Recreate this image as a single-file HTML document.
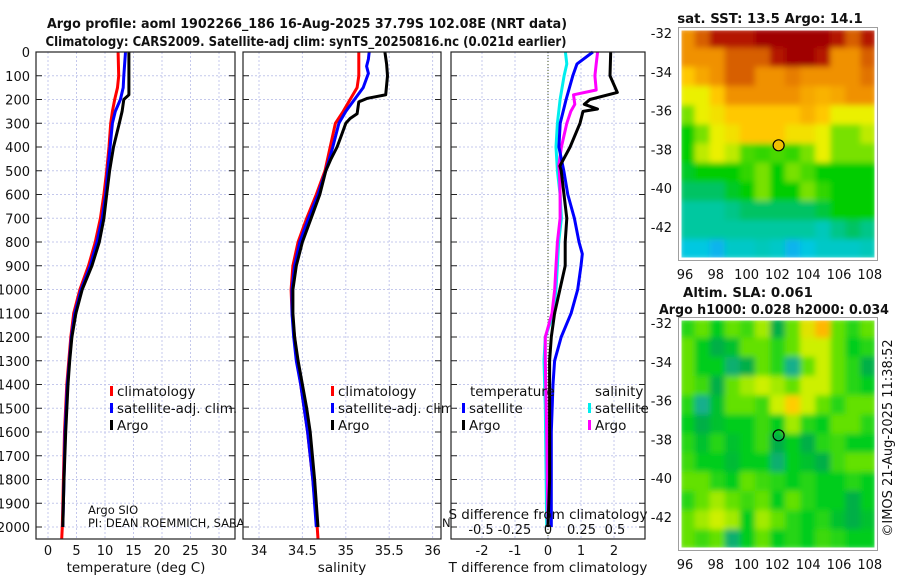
<!DOCTYPE html>
<html><head><meta charset="utf-8">
<style>
html,body{margin:0;padding:0;background:#fff;}
svg{display:block;font-family:"DejaVu Sans","Liberation Sans",sans-serif;}
</style></head>
<body>
<svg id="chart" width="900" height="580" viewBox="0 0 900 580" xmlns="http://www.w3.org/2000/svg"></svg>
<script>
// ---------- DATA ----------
const depthTicks = [0,100,200,300,400,500,600,700,800,900,1000,1100,1200,1300,1400,1500,1600,1700,1800,1900,2000];
const tempTicks = [0,5,10,15,20,25,30];
const salTicks = [34,34.5,35,35.5,36];
const salTickLabels = ["34","34.5","35","35.5","36"];
const tdiffTicks = [-2,-1,0,1,2];
const sdiffTicks = [-0.5,-0.25,0,0.25,0.5];
const sdiffTickLabels = ["-0.5","-0.25","0","0.25","0.5"];

const argoTDepth = [0,100,180,200,250,300,350,400,500,600,700,800,900,1000,1100,1200,1300,1400,1600,1800,2000];
const argoTemp   = [14.2,14.2,14.2,13.3,13.0,12.5,12.0,11.5,10.8,10.3,9.8,9.0,7.7,6.0,4.9,4.2,3.8,3.5,3.1,2.8,2.6];
const satTDepth  = [0,100,150,200,250,300,400,500,600,700,800,900,1000,1100,1200,1400,1600,2000];
const satTemp    = [13.6,13.3,13.2,12.7,11.8,11.3,10.9,10.5,10.1,9.5,8.6,7.4,5.8,4.7,4.1,3.4,3.0,2.6];
const climTDepth = [0,100,150,200,250,300,400,500,600,700,800,900,1000,1100,1200,1400,1600,2000,2050];
const climTemp   = [12.3,12.4,12.2,11.7,11.3,11.0,10.7,10.3,9.8,9.2,8.3,7.1,5.6,4.5,4.0,3.3,2.9,2.5,2.4];

const argoSDepth = [0,50,100,180,195,210,260,280,300,350,400,450,500,600,700,800,900,1000,1100,1200,1300,1400,1500,1600,1800,2000];
const argoSal    = [35.45,35.47,35.48,35.46,35.25,35.15,35.13,35.05,35.0,34.95,34.9,34.83,34.77,34.70,34.6,34.5,34.43,34.39,34.39,34.41,34.45,34.5,34.55,34.59,34.64,34.68];
const satSDepth  = [0,30,60,90,150,200,250,300,400,500,600,700,800,900,1000,1100,1200,1300,1400,1600,1800,2000];
const satSal     = [35.27,35.26,35.24,35.26,35.2,35.1,35.0,34.92,34.85,34.77,34.68,34.57,34.47,34.41,34.38,34.38,34.4,34.43,34.48,34.56,34.62,34.66];
const climSDepth = [0,100,150,200,250,300,400,500,600,700,800,900,1000,1100,1200,1300,1400,1600,1800,2000,2050];
const climSal    = [35.15,35.15,35.13,35.05,34.97,34.88,34.82,34.76,34.66,34.55,34.45,34.39,34.37,34.38,34.41,34.44,34.48,34.56,34.62,34.67,34.68];

const argoTdDepth = [0,100,170,200,220,240,250,300,400,480,500,700,800,900,1000,1100,1200,1300,1400,1500,1800,2000];
const argoTdiff   = [1.9,1.88,2.1,1.27,1.1,1.5,1.06,0.97,0.67,0.36,0.4,0.57,0.52,0.52,0.36,0.2,0.1,0.05,0.05,0.05,0.05,0.0];
const satTdDepth  = [0,50,100,200,300,400,500,600,700,800,850,900,1000,1100,1200,1300,1400,1600,2000];
const satTdiff    = [1.36,0.88,0.75,0.55,0.37,0.33,0.48,0.6,0.8,0.94,1.04,1.0,0.9,0.7,0.4,0.2,0.15,0.1,0.1];
const satSdDepth  = [0,50,100,200,300,400,500,600,700,800,900,1000,1100,1200,1300,1500,2000];
const satSdiff    = [0.13,0.14,0.12,0.09,0.07,0.06,0.07,0.09,0.1,0.08,0.07,0.06,0.04,-0.02,-0.03,-0.02,-0.01];
const argoSdDepth = [0,50,100,160,180,220,250,300,400,480,500,600,700,800,900,1000,1100,1200,1300,1600,2000];
const argoSdiff   = [0.37,0.36,0.35,0.36,0.19,0.2,0.17,0.14,0.10,0.08,0.085,0.09,0.09,0.07,0.06,0.05,0.03,-0.02,-0.02,-0.01,0.0];

const lonTicks = [96,98,100,102,104,106,108];
const latTicks = [-32,-34,-36,-38,-40,-42];
const floatLon = 102.08, floatLat = -37.79;
const sstGrid = [
[15,15.5,16,16,16,16.5,16.5,16.5,16.5,16.5,16,15.5,16],
[15,15,15,15.5,15.5,15.5,16,16.5,16.5,16,15,15,15.5],
[14.5,14.8,15,15.5,15.5,15,15,15.2,15,15,15,15,15.3],
[14,14,14.5,15,15,15,15,15,14.8,14.7,14.8,15,15],
[13.5,14,14.2,14.5,14.5,14.5,14.5,14.5,14.7,14.5,14,14,14],
[13,13.5,14,14.2,14.5,14.5,14.5,14.2,14.2,14,13.5,13.5,13.8],
[13,13.8,14,13.8,13.3,13.2,13.3,13.2,13.5,14,13.5,13.5,13.5],
[12.8,13,13,13,13.2,13.5,13,13.5,13.3,13,13,13,13],
[12.5,12.5,12.5,12.8,13,13.5,13,13,13.5,13.2,13,13,13],
[12,12,12,12.2,12.5,12.5,12.5,12.5,12.5,12.7,13,13,13],
[12,12,12,12,12,12,12,12,12,11.8,12.2,12.5,12.2],
[11.5,11.5,11.3,11.7,11.7,11.8,11.7,11.3,11.5,11.7,11.7,11.7,11.8]];
const slaGrid = [
[0.02,0.05,0.0,0.05,0.03,0.08,-0.05,0.05,0.12,0.17,0.05,0.02,0.05],
[0.05,0.0,-0.05,-0.02,0.05,0.05,0.02,0.05,0.1,0.1,0.05,0.0,0.02],
[0.05,0.0,0.0,-0.08,-0.05,0.05,0.02,-0.1,0.05,0.1,0.05,0.02,-0.05],
[0.05,0.03,-0.05,0.05,0.08,0.1,0.08,0.05,0.1,0.1,0.05,0.02,0.0],
[0.02,-0.1,-0.02,0.05,0.05,0.03,0.1,0.15,0.1,0.05,0.02,0.05,0.05],
[0.0,-0.05,-0.02,0.0,0.0,0.03,0.0,0.08,0.02,0.0,0.05,0.05,0.02],
[0.02,-0.02,0.02,-0.02,0.0,0.03,-0.05,0.0,-0.05,0.02,0.03,0.0,0.0],
[0.03,0.0,0.0,-0.03,0.0,0.0,-0.08,0.0,-0.02,-0.05,0.03,0.05,0.05],
[0.05,0.05,0.02,0.0,0.05,0.03,0.02,0.0,0.02,0.0,0.0,0.02,0.0],
[0.02,0.05,0.08,0.05,0.03,0.05,0.0,0.05,0.02,0.0,0.0,-0.05,0.0],
[0.05,0.08,0.1,0.08,0.0,0.08,0.05,0.02,0.0,0.02,-0.02,-0.05,-0.02],
[0.05,0.03,0.05,-0.08,0.0,0.05,0.0,0.02,0.0,0.03,0.02,0.0,0.0]];

// ---------- SCALES ----------
const PT = 52, PB = 539;
const yD = d => 52 + d * 0.2375;
const xT = t => 48 + t * 5.7;
const xS = s => 259 + (s - 34) * 86.8;
const xTd = v => 548 + v * 33;
const xSd = v => 548 + v * 134;
const panels = [{x0:36,x1:235},{x0:243,x1:441},{x0:451,x1:645}];
const M1 = {x0:680,x1:876,y0:29,y1:259}, M2 = {x0:680,x1:876,y0:319,y1:549};
const mLon = lon => 685 + (lon - 96) * 15.4;
const m1Lat = lat => 33 + (-32 - lat) * 19.4;
const m2Lat = lat => 323 + (-32 - lat) * 19.4;

const svg = document.getElementById('chart');
const NS = 'http://www.w3.org/2000/svg';
function mk(tag, attrs, parent) {
  const e = document.createElementNS(NS, tag);
  for (const k in attrs) e.setAttribute(k, attrs[k]);
  (parent || svg).appendChild(e);
  return e;
}
function txt(s, x, y, size, anchor, weight, parent) {
  const t = mk('text', {x:x, y:y, 'font-size':size, 'text-anchor':anchor||'start', 'font-weight':weight||'normal', fill:'#111'}, parent);
  t.textContent = s;
  return t;
}

// titles
let e;
e = txt('Argo profile: aoml 1902266_186 16-Aug-2025 37.79S 102.08E (NRT data)', 307, 28, 13.3, 'middle', 'bold');
e.setAttribute('textLength', '520');
e.setAttribute('lengthAdjust', 'spacingAndGlyphs');


e = txt('Climatology: CARS2009. Satellite-adj clim: synTS_20250816.nc (0.021d earlier)', 306, 46, 13.3, 'middle', 'bold');
e.setAttribute('textLength', '521');
e.setAttribute('lengthAdjust', 'spacingAndGlyphs');



function panelFrame(p, name, xTicks, xScale, xLabels) {
  const g = mk('g', {});
  
  
  const bg = mk('rect', {x:p.x0, y:PT, width:p.x1-p.x0, height:PB-PT, fill:'#fff'}, g);
  
  
  xTicks.forEach(v => {
    const x = xScale(v);
    const l = mk('line', {x1:x, x2:x, y1:PT, y2:PB, stroke:'#c4c8ec', 'stroke-width':1, 'stroke-dasharray':'2,2'}, g);
    
    
  });
  depthTicks.forEach(d => {
    const y = yD(d);
    const l = mk('line', {x1:p.x0, x2:p.x1, y1:y, y2:y, stroke:'#c4c8ec', 'stroke-width':1, 'stroke-dasharray':'2,2'}, g);
    
    
    const t1 = mk('line', {x1:p.x0, x2:p.x0+6, y1:y, y2:y, stroke:'#222', 'stroke-width':1}, g);
    
    
    const t2 = mk('line', {x1:p.x1-6, x2:p.x1, y1:y, y2:y, stroke:'#222', 'stroke-width':1}, g);
    
    
  });
  if (xLabels) xTicks.forEach((v, i) => {
    const t = txt(xLabels[i], xScale(v), 555, 13, 'middle', 'normal', g);
    
    
  });
  return g;
}
function frameBorder(p, g) {
  const b = mk('rect', {x:p.x0, y:PT, width:p.x1-p.x0, height:PB-PT, fill:'none', stroke:'#222', 'stroke-width':1.2}, g);
  
  
}
function curve(xs, ds, xScale, color, name, g, w) {
  const pts = xs.map((v, i) => xScale(v).toFixed(1) + ',' + yD(ds[i]).toFixed(1)).join(' ');
  const pl = mk('polyline', {points:pts, fill:'none', stroke:color, 'stroke-width':w||3, 'stroke-linejoin':'round'}, g);
  
  
}
function legendItem(x, y, color, label, g) {
  const r = mk('rect', {x:x, y:y-10, width:3, height:10, fill:color}, g);
  
  
  const t = txt(label, x+7, y, 13.5, 'start', 'normal', g);
  
  
}

// Panel 1 temperature
const g1 = panelFrame(panels[0], 'temperature-panel', tempTicks, xT, tempTicks.map(String));
e = txt('Argo SIO', 88, 514, 11.5, 'start', 'normal', g1);


e = txt('PI: DEAN ROEMMICH, SARAH PURKEY, NATHALIE ZILBERMAN', 88, 527, 11.5, 'start', 'normal', g1);


curve(climTemp, climTDepth, xT, '#ff0000', 'temperature-climatology-line', g1);
curve(satTemp, satTDepth, xT, '#0000ff', 'temperature-satellite-line', g1);
curve(argoTemp, argoTDepth, xT, '#000000', 'temperature-argo-line', g1);
legendItem(110, 396, '#ff0000', 'climatology', g1);
legendItem(110, 413, '#0000ff', 'satellite-adj. clim.', g1);
legendItem(110, 430, '#000000', 'Argo', g1);
frameBorder(panels[0], g1);
depthTicks.forEach(d => {
  const t = txt(String(d), 30, yD(d)+5, 13, 'end');
  
  
});
e = txt('temperature (deg C)', 136, 572, 13.5, 'middle');



// Panel 2 salinity
const g2 = panelFrame(panels[1], 'salinity-panel', salTicks, xS, salTickLabels);
curve(climSal, climSDepth, xS, '#ff0000', 'salinity-climatology-line', g2);
curve(satSal, satSDepth, xS, '#0000ff', 'salinity-satellite-line', g2);
curve(argoSal, argoSDepth, xS, '#000000', 'salinity-argo-line', g2);
legendItem(331, 396, '#ff0000', 'climatology', g2);
legendItem(331, 413, '#0000ff', 'satellite-adj. clim.', g2);
legendItem(331, 430, '#000000', 'Argo', g2);
frameBorder(panels[1], g2);
e = txt('N', 442, 527, 11.5);


e = txt('salinity', 342, 572, 13.5, 'middle');



// Panel 3 differences
const g3 = panelFrame(panels[2], 'difference-panel', tdiffTicks, xTd, tdiffTicks.map(String));
e = mk('line', {x1:548, x2:548, y1:PT, y2:PB, stroke:'#445522', 'stroke-width':1, 'stroke-dasharray':'1,2'}, g3);


curve(satSdiff, satSdDepth, xSd, '#00eeee', 'salinity-diff-satellite-line', g3);
curve(argoSdiff, argoSdDepth, xSd, '#ff00ff', 'salinity-diff-argo-line', g3);
curve(satTdiff, satTdDepth, xTd, '#0000ff', 'temperature-diff-satellite-line', g3);
curve(argoTdiff, argoTdDepth, xTd, '#000000', 'temperature-diff-argo-line', g3);
e = txt('temperature', 470, 396, 13.5, 'start', 'normal', g3);


e = txt('salinity', 595, 396, 13.5, 'start', 'normal', g3);


legendItem(462, 413, '#0000ff', 'satellite', g3);
legendItem(462, 430, '#000000', 'Argo', g3);
legendItem(588, 413, '#00eeee', 'satellite', g3);
legendItem(588, 430, '#ff00ff', 'Argo', g3);
e = txt('S difference from climatology', 548, 519, 13.5, 'middle', 'normal', g3);


sdiffTicks.forEach((v, i) => {
  const t = txt(sdiffTickLabels[i], xSd(v), 534, 13, 'middle', 'normal', g3);
  
  
});
frameBorder(panels[2], g3);
e = txt('T difference from climatology', 548, 572, 13.5, 'middle');



// ---------- MAPS ----------
function lerpColor(stops, v) {
  let c;
  if (v <= stops[0][0]) c = stops[0][1];
  else if (v >= stops[stops.length-1][0]) c = stops[stops.length-1][1];
  else {
    for (let i = 1; i < stops.length; i++) {
      if (v <= stops[i][0]) {
        const a = stops[i-1], b = stops[i], f = (v - a[0]) / (b[0] - a[0]);
        c = a[1].map((c0, k) => Math.round(c0 + (b[1][k] - c0) * f));
        break;
      }
    }
  }
  return 'rgb(' + c.join(',') + ')';
}
const sstStops = [[11,[30,150,255]],[11.5,[0,200,225]],[12,[0,200,160]],[12.5,[0,195,100]],[13,[0,205,0]],[13.5,[120,225,0]],[14,[235,240,0]],[14.5,[255,200,0]],[15,[240,145,0]],[15.5,[215,95,0]],[16,[180,20,0]],[16.5,[160,0,0]]];
const slaStops = [[-0.1,[20,175,140]],[-0.05,[0,175,70]],[0,[0,205,30]],[0.05,[100,225,0]],[0.1,[205,240,0]],[0.15,[255,205,0]],[0.2,[255,150,0]]];
function sstColor(v){ return lerpColor(sstStops, v); }
function slaColor(v){ return lerpColor(slaStops, v); }

const defs = mk('defs', {});
const flt = mk('filter', {id:'soft', x:'0', y:'0', width:'1', height:'1'}, defs);
mk('feGaussianBlur', {stdDeviation:'3'}, flt);
['c1','c2'].forEach((id, i) => {
  const m = i ? M2 : M1;
  const cp = mk('clipPath', {id:id}, defs);
  mk('rect', {x:m.x0, y:m.y0, width:m.x1-m.x0, height:m.y1-m.y0}, cp);
});

function drawMap(m, grid, colorFn, latScale, name, clipId, circleFill) {
  const g = mk('g', {});
  
  
  const rows = grid.length, cols = grid[0].length;
  const cw = (m.x1 - m.x0) / cols, ch = (m.y1 - m.y0) / rows;
  const inner = mk('g', {'clip-path':'url(#' + clipId + ')'}, g);
  const blurG = mk('g', {filter:'url(#soft)'}, inner);
  grid.forEach((row, r) => row.forEach((v, c) => {
    const cell = mk('rect', {x:(m.x0 + c*cw - 0.5).toFixed(1), y:(m.y0 + r*ch - 0.5).toFixed(1), width:(cw+1).toFixed(1), height:(ch+1).toFixed(1), fill:colorFn(v)}, blurG);
    
    
  }));
  const fr = mk('rect', {x:m.x0, y:m.y0, width:m.x1-m.x0, height:m.y1-m.y0, fill:'none', stroke:'#fff', 'stroke-width':3}, g);
  
  
  const fr2 = mk('rect', {x:m.x0-1.5, y:m.y0-1.5, width:m.x1-m.x0+3, height:m.y1-m.y0+3, fill:'none', stroke:'#888', 'stroke-width':0.8}, g);
  
  
  lonTicks.forEach(lon => {
    const t = txt(String(lon), mLon(lon), m.y1 + 20, 13, 'middle', 'normal', g);
    
    
  });
  latTicks.forEach(lat => {
    const t = txt(String(lat), 672, latScale(lat) + 5, 13, 'end', 'normal', g);
    
    
  });
  const c = mk('circle', {cx:mLon(floatLon), cy:latScale(floatLat), r:5.5, fill:circleFill, stroke:'#000', 'stroke-width':1.2}, g);
  
  
}
drawMap(M1, sstGrid, sstColor, m1Lat, 'sst-map', 'c1', '#f0c000');
drawMap(M2, slaGrid, slaColor, m2Lat, 'sla-map', 'c2', 'none');

e = txt('sat. SST: 13.5 Argo: 14.1', 770, 23, 13.3, 'middle', 'bold');


e = txt('Altim. SLA: 0.061', 748, 297, 13.3, 'middle', 'bold');


e = txt('Argo h1000: 0.028 h2000: 0.034', 774, 314, 13.3, 'middle', 'bold');
e.setAttribute('textLength', '230');
e.setAttribute('lengthAdjust', 'spacingAndGlyphs');


e = txt('©IMOS 21-Aug-2025 11:38:52', 0, 0, 13, 'middle');
e.setAttribute('transform', 'translate(892,438) rotate(-90)');


</script>
</body></html>
